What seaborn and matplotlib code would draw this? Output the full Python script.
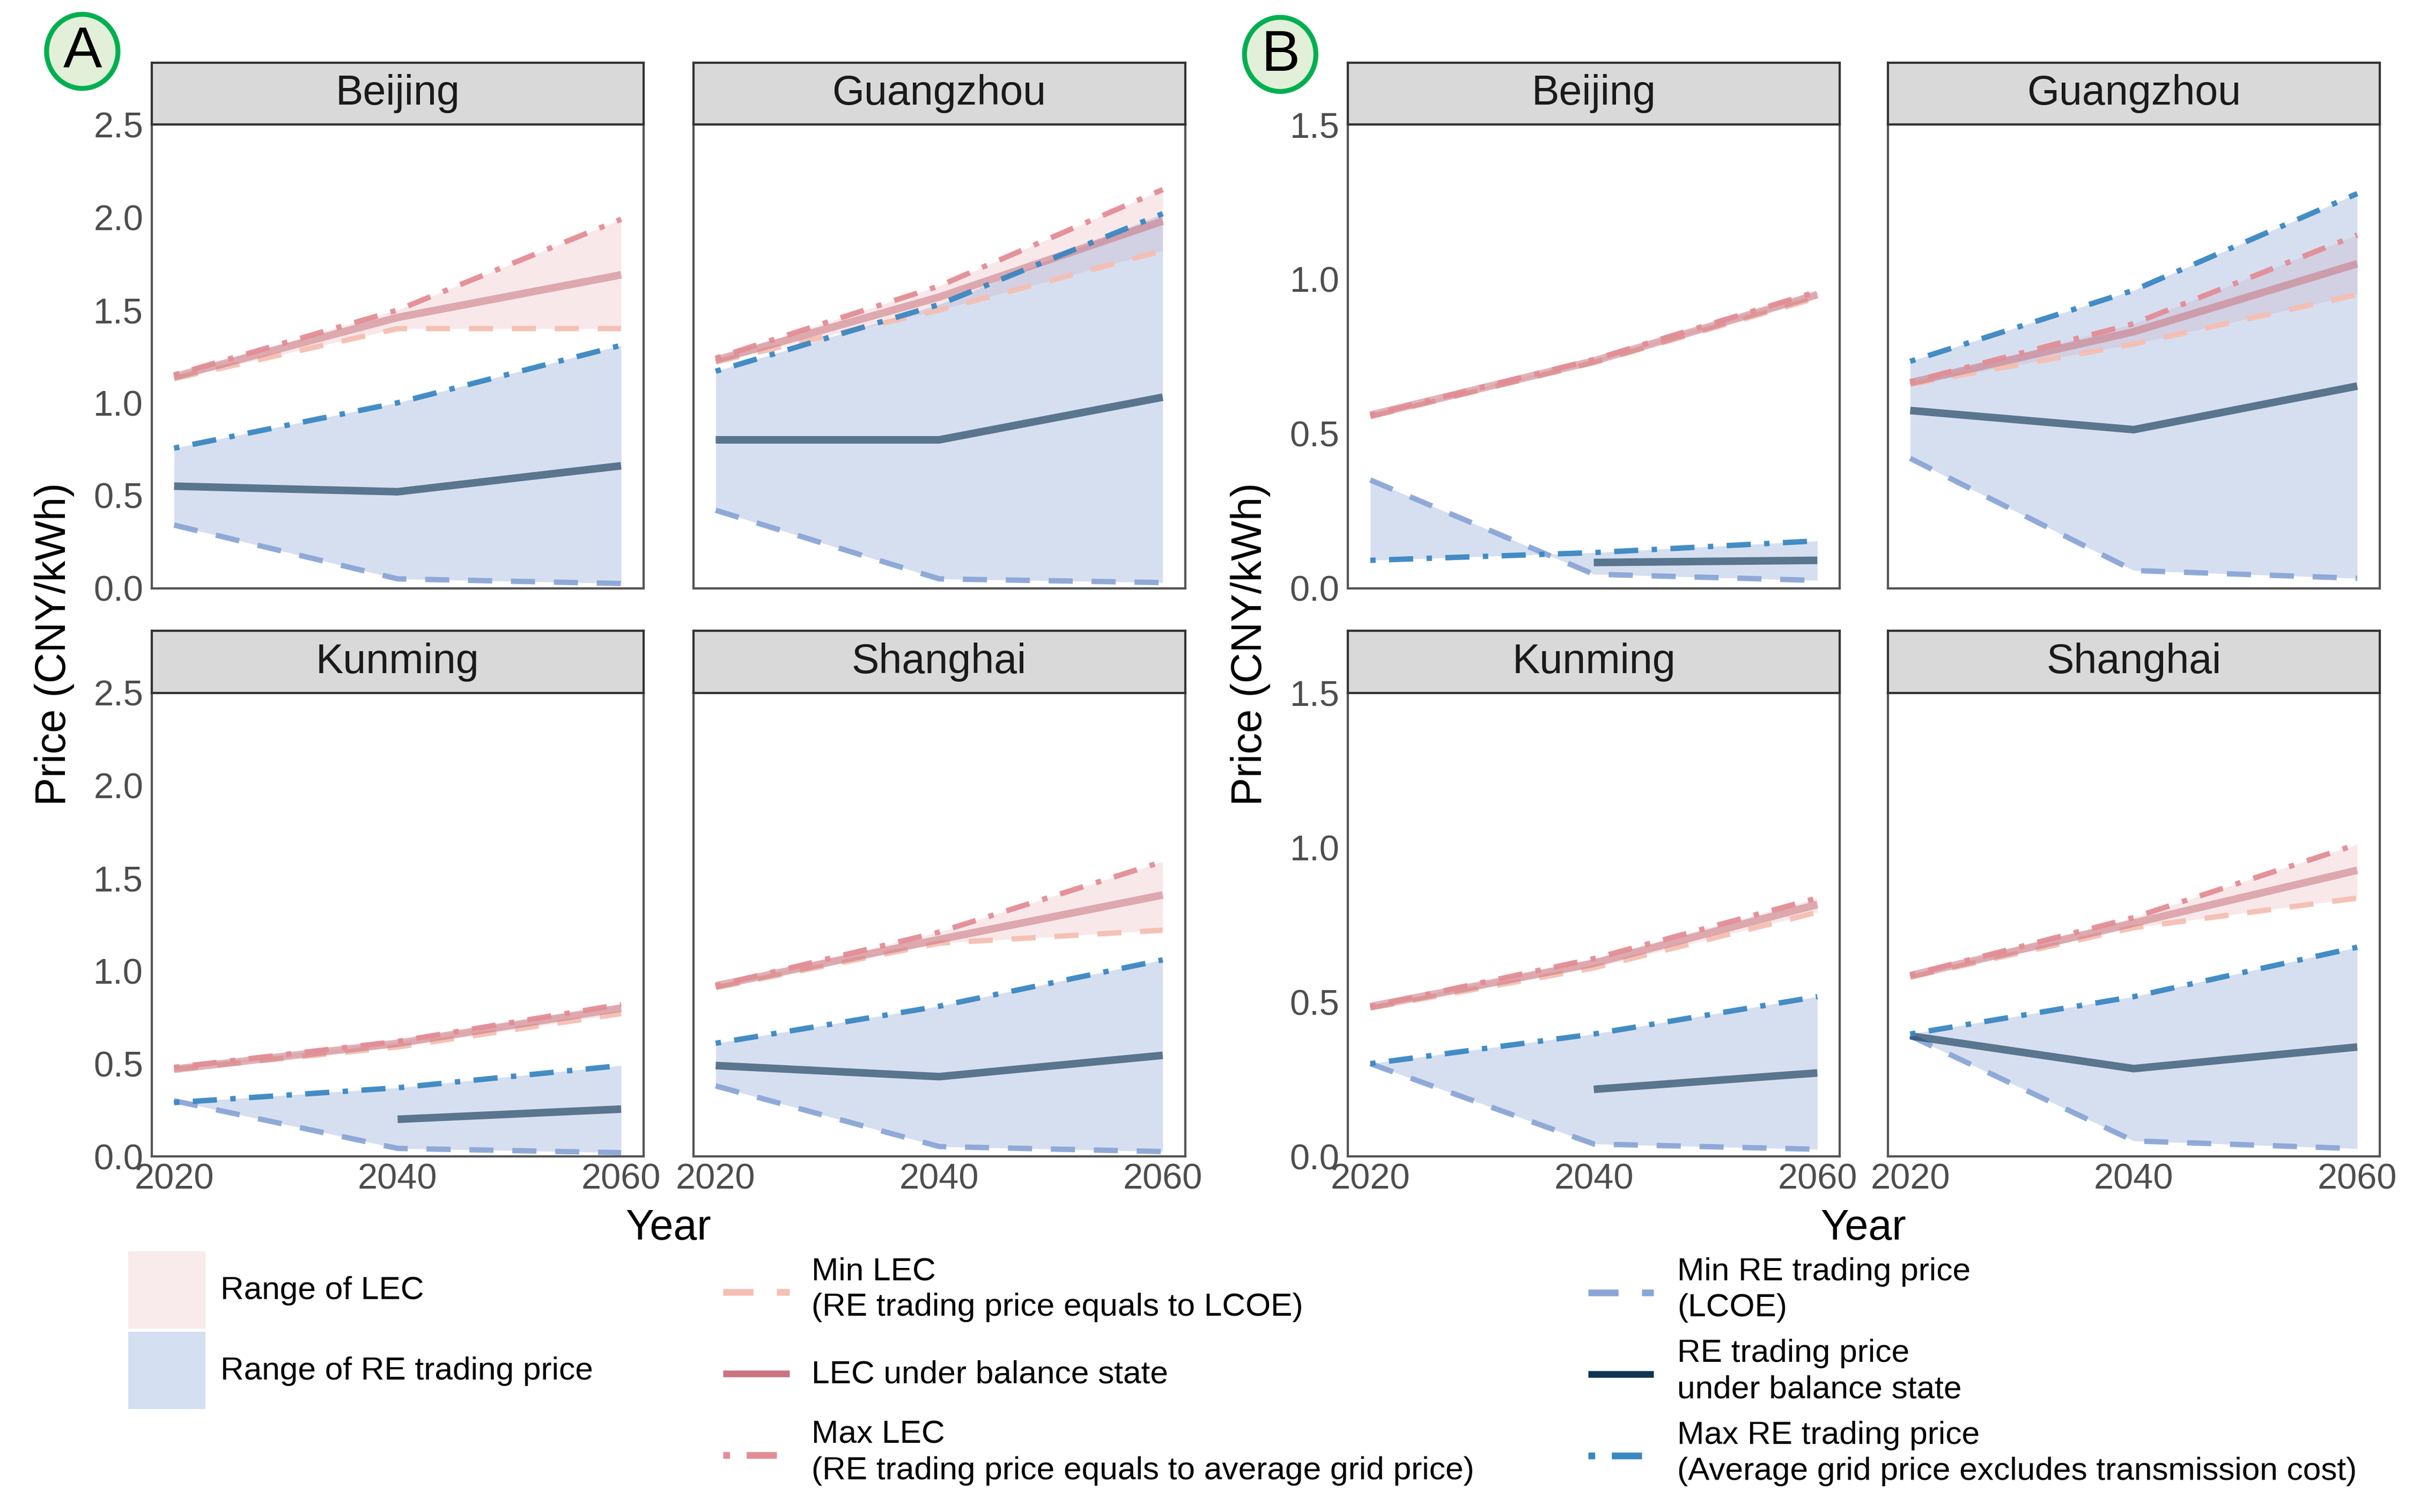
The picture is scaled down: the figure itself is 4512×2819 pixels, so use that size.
import matplotlib
matplotlib.use("Agg")
import matplotlib.pyplot as plt
import numpy as np
import pandas as pd
import seaborn as sns
from matplotlib.legend_handler import HandlerLine2D
from matplotlib.lines import Line2D
from matplotlib.patches import Ellipse, Patch

nan = np.nan

years = [2020, 2040, 2060]
cities = ["Beijing", "Guangzhou", "Kunming", "Shanghai"]

# ---- panel A ----
a_min_lec = {"Beijing": [1.13, 1.40, 1.40], "Guangzhou": [1.22, 1.50, 1.82],
             "Kunming": [0.47, 0.59, 0.77], "Shanghai": [0.91, 1.15, 1.22]}
a_lec = {"Beijing": [1.14, 1.46, 1.69], "Guangzhou": [1.23, 1.57, 1.98],
         "Kunming": [0.47, 0.61, 0.80], "Shanghai": [0.92, 1.17, 1.41]}
a_max_lec = {"Beijing": [1.15, 1.50, 1.99], "Guangzhou": [1.24, 1.63, 2.15],
             "Kunming": [0.48, 0.62, 0.82], "Shanghai": [0.92, 1.21, 1.59]}
a_min_re = {"Beijing": [0.34, 0.05, 0.025], "Guangzhou": [0.42, 0.05, 0.03],
            "Kunming": [0.30, 0.043, 0.02], "Shanghai": [0.38, 0.053, 0.026]}
a_re = {"Beijing": [0.55, 0.52, 0.66], "Guangzhou": [0.80, 0.80, 1.03],
        "Kunming": [nan, 0.20, 0.255], "Shanghai": [0.49, 0.43, 0.545]}
a_max_re = {"Beijing": [0.755, 1.00, 1.31], "Guangzhou": [1.17, 1.53, 2.02],
            "Kunming": [0.29, 0.37, 0.49], "Shanghai": [0.61, 0.81, 1.06]}

# ---- panel B ----
b_min_lec = {"Beijing": [0.555, 0.73, 0.94], "Guangzhou": [0.66, 0.79, 0.95],
             "Kunming": [0.48, 0.61, 0.79], "Shanghai": [0.58, 0.74, 0.836]}
b_lec = {"Beijing": [0.56, 0.735, 0.95], "Guangzhou": [0.665, 0.83, 1.05],
         "Kunming": [0.485, 0.625, 0.815], "Shanghai": [0.585, 0.755, 0.926]}
b_max_lec = {"Beijing": [0.56, 0.74, 0.96], "Guangzhou": [0.667, 0.856, 1.143],
             "Kunming": [0.485, 0.64, 0.836], "Shanghai": [0.587, 0.773, 1.01]}
b_min_re = {"Beijing": [0.35, 0.045, 0.025], "Guangzhou": [0.42, 0.057, 0.032],
            "Kunming": [0.30, 0.04, 0.023], "Shanghai": [0.39, 0.05, 0.025]}
b_re = {"Beijing": [nan, 0.083, 0.09], "Guangzhou": [0.575, 0.513, 0.654],
        "Kunming": [nan, 0.217, 0.27], "Shanghai": [0.39, 0.284, 0.354]}
b_max_re = {"Beijing": [0.09, 0.115, 0.153], "Guangzhou": [0.734, 0.964, 1.277],
            "Kunming": [0.30, 0.396, 0.517], "Shanghai": [0.396, 0.517, 0.677]}

a_yticks = [0.0, 0.5, 1.0, 1.5, 2.0, 2.5]
b_yticks = [0.0, 0.5, 1.0, 1.5]

fill_labels = ["Range of LEC", "Range of RE trading price"]
lec_labels = ["Min LEC\n(RE trading price equals to LCOE)",
              "LEC under balance state",
              "Max LEC\n(RE trading price equals to average grid price)"]
re_labels = ["Min RE trading price\n(LCOE)",
             "RE trading price\nunder balance state",
             "Max RE trading price\n(Average grid price excludes transmission cost)"]

DASH = (0, (4.5, 3.5))
DOTDASH = (0, (1, 2.5, 4.5, 2.5))

STYLE = {
    "min_lec": dict(color="#f5bfb3", ls=DASH, lw=2.4, alpha=0.95),
    "lec":     dict(color="#c97480", ls="-", lw=3.4, alpha=0.55),
    "max_lec": dict(color="#e38d96", ls=DOTDASH, lw=2.4, alpha=0.95),
    "min_re":  dict(color="#8ba6d6", ls=DASH, lw=2.4, alpha=0.95),
    "re":      dict(color="#0f3552", ls="-", lw=3.4, alpha=0.62),
    "max_re":  dict(color="#3a87c2", ls=DOTDASH, lw=2.4, alpha=0.95),
}
LEC_FILL = "#e38d96"
RE_FILL = "#8ba6d6"

sns.set_theme(style="white")
plt.rcParams["font.family"] = ["Liberation Sans", "DejaVu Sans"]
plt.rcParams["lines.solid_capstyle"] = "butt"
plt.rcParams["lines.dash_capstyle"] = "butt"

fig = plt.figure(figsize=(15.04, 9.397), dpi=300)

col_left = {"A": [0.0627, 0.2865], "B": [0.5570, 0.7801]}
col_w = 0.2032
row_bottom = [0.611, 0.2352]
row_h = 0.3065
strip_h = 0.041


def draw_series(ax, vals, key):
    df = pd.DataFrame({"year": years, "price": vals}).dropna()
    st = STYLE[key]
    sns.lineplot(data=df, x="year", y="price", ax=ax, estimator=None, errorbar=None,
                 legend=False, color=st["color"], linestyle=st["ls"],
                 linewidth=st["lw"], alpha=st["alpha"])


def draw_panel(tag, data, yticks, ymax):
    min_lec, lec, max_lec, min_re, re, max_re = data
    for i, city in enumerate(cities):
        r, c = divmod(i, 2)
        x0 = col_left[tag][c]
        y0 = row_bottom[r]
        ax = fig.add_axes([x0, y0, col_w, row_h])
        ax.set_facecolor("white")

        ax.fill_between(years, min_lec[city], max_lec[city], color=LEC_FILL,
                        alpha=0.2, lw=0)
        draw_series(ax, min_lec[city], "min_lec")
        draw_series(ax, lec[city], "lec")
        draw_series(ax, max_lec[city], "max_lec")
        ax.fill_between(years, min_re[city], max_re[city], color=RE_FILL,
                        alpha=0.35, lw=0)
        draw_series(ax, min_re[city], "min_re")
        draw_series(ax, re[city], "re")
        draw_series(ax, max_re[city], "max_re")

        ax.set_xlim(2018, 2062)
        ax.set_ylim(0, ymax)
        ax.set_xticks(years)
        ax.set_yticks(yticks)
        ax.set_xlabel("")
        ax.set_ylabel("")
        for sp in ax.spines.values():
            sp.set_color("#555555")
            sp.set_linewidth(1.0)
        ax.tick_params(direction="in", length=4.8, width=1.0, color="#333333",
                       labelsize=16, labelcolor="#4d4d4d")
        ax.tick_params(axis="y", pad=3.8)
        ax.tick_params(axis="x", pad=2.9)
        if c == 0:
            ax.set_yticklabels([f"{t:.1f}" for t in yticks])
        else:
            ax.tick_params(axis="y", length=0, labelleft=False)
        if r == 1:
            ax.set_xticklabels([str(y) for y in years])
        else:
            ax.tick_params(axis="x", length=0, labelbottom=False)

        sax = fig.add_axes([x0, y0 + row_h, col_w, strip_h])
        sax.set_facecolor("#d9d9d9")
        sax.set_xticks([])
        sax.set_yticks([])
        for sp in sax.spines.values():
            sp.set_color("#333333")
            sp.set_linewidth(1.0)
        sax.text(0.5, 0.5, city, ha="center", va="center", fontsize=18.5,
                 color="#1a1a1a", transform=sax.transAxes)


draw_panel("A", (a_min_lec, a_lec, a_max_lec, a_min_re, a_re, a_max_re), a_yticks, 2.5)
draw_panel("B", (b_min_lec, b_lec, b_max_lec, b_min_re, b_re, b_max_re), b_yticks, 1.5)

# axis titles
for x in (0.0224, 0.5167):
    fig.text(x, 0.574, "Price (CNY/kWh)", rotation=90, ha="center", va="center",
             fontsize=19, color="black")
for x in (0.2763, 0.770):
    fig.text(x, 0.1875, "Year", ha="center", va="center", fontsize=19, color="black")

# panel tags
for (cx, cy), tag in (((0.034, 0.966), "A"), ((0.529, 0.964), "B")):
    fig.add_artist(Ellipse((cx, cy), 0.0295, 0.049, transform=fig.transFigure,
                           facecolor="#e2f0d9", edgecolor="#00b050", lw=2.2))
    fig.text(cx, cy - 0.001, tag, ha="center", va="center", fontsize=26, color="black")


class CenteredLine(HandlerLine2D):
    # keep the key line in the middle of a tall legend row
    def create_artists(self, legend, orig_handle, xdescent, ydescent, width, height,
                       fontsize, trans):
        arts = super().create_artists(legend, orig_handle, xdescent, ydescent, width,
                                      height, fontsize, trans)
        for a in arts:
            a.set_ydata(np.asarray(a.get_ydata()) - ydescent / 2)
        return arts


# legends
fill_handles = [Patch(facecolor="#f9eaec", edgecolor="none"),
                Patch(facecolor="#d4e0f1", edgecolor="none")]
leg1 = fig.legend(fill_handles, fill_labels, loc="center left",
                  bbox_to_anchor=(239 / 4512, 1 - 2480 / 2819), frameon=False,
                  fontsize=14.5, handlelength=2.38, handleheight=3.29,
                  handletextpad=0.46, labelspacing=0.1, borderpad=0, borderaxespad=0)


def line_handle(key):
    st = STYLE[key]
    return Line2D([], [], color=st["color"], ls=st["ls"], lw=3.0)


hmap = {Line2D: CenteredLine()}
leg2 = fig.legend([line_handle(k) for k in ("min_lec", "lec", "max_lec")], lec_labels,
                  loc="center left", bbox_to_anchor=(1348 / 4512, 1 - 2561 / 2819),
                  frameon=False, fontsize=14.5, handlelength=2.05, handleheight=3.5,
                  handletextpad=0.68, labelspacing=0.0, borderpad=0, borderaxespad=0,
                  handler_map=hmap)
leg3 = fig.legend([line_handle(k) for k in ("min_re", "re", "max_re")], re_labels,
                  loc="center left", bbox_to_anchor=(2961 / 4512, 1 - 2562 / 2819),
                  frameon=False, fontsize=14.5, handlelength=2.02, handleheight=3.5,
                  handletextpad=0.73, labelspacing=0.0, borderpad=0, borderaxespad=0,
                  handler_map=hmap)
for leg in (leg1, leg2, leg3):
    for t in leg.get_texts():
        t.set_linespacing(1.28)
        t.set_color("black")

fig.savefig("out.png", dpi=300, facecolor="white")
